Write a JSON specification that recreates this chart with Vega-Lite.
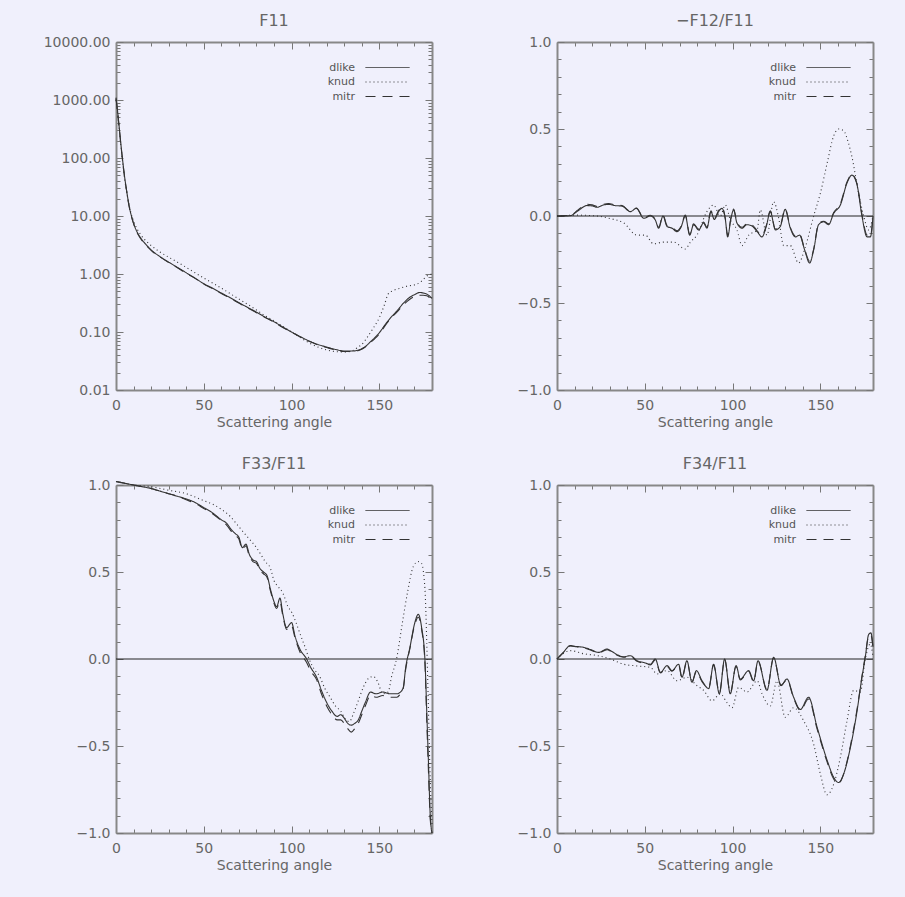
{
"$schema": "https://vega.github.io/schema/vega-lite/v6.json",
"background": "#f0f0fc",
"padding": {"left": 43, "top": 13, "right": 34, "bottom": 30},
"columns": 2,
"spacing": {"row": 95, "column": 125},
"bounds": "flush",
"datasets": {
"f11": [
{"series":"dlike","angle":0,"value":1100},{"series":"dlike","angle":1,"value":600},{"series":"dlike","angle":2,"value":300},{"series":"dlike","angle":3,"value":150},{"series":"dlike","angle":4,"value":80},{"series":"dlike","angle":5,"value":45},{"series":"dlike","angle":6,"value":28},{"series":"dlike","angle":7,"value":18},{"series":"dlike","angle":8,"value":12.5},{"series":"dlike","angle":9,"value":9.5},{"series":"dlike","angle":10,"value":7.5},{"series":"dlike","angle":12,"value":5.3},{"series":"dlike","angle":14,"value":4.2},{"series":"dlike","angle":16,"value":3.5},{"series":"dlike","angle":18,"value":3.0},{"series":"dlike","angle":20,"value":2.6},{"series":"dlike","angle":25,"value":2.0},{"series":"dlike","angle":30,"value":1.6},{"series":"dlike","angle":35,"value":1.3},{"series":"dlike","angle":40,"value":1.05},{"series":"dlike","angle":45,"value":0.85},{"series":"dlike","angle":50,"value":0.68},{"series":"dlike","angle":55,"value":0.57},{"series":"dlike","angle":60,"value":0.47},{"series":"dlike","angle":65,"value":0.39},{"series":"dlike","angle":70,"value":0.32},{"series":"dlike","angle":75,"value":0.265},{"series":"dlike","angle":80,"value":0.22},{"series":"dlike","angle":85,"value":0.18},{"series":"dlike","angle":90,"value":0.15},{"series":"dlike","angle":95,"value":0.122},{"series":"dlike","angle":100,"value":0.1},{"series":"dlike","angle":105,"value":0.083},{"series":"dlike","angle":110,"value":0.07},{"series":"dlike","angle":115,"value":0.061},{"series":"dlike","angle":120,"value":0.055},{"series":"dlike","angle":125,"value":0.05},{"series":"dlike","angle":130,"value":0.047},{"series":"dlike","angle":135,"value":0.047},{"series":"dlike","angle":139,"value":0.05},{"series":"dlike","angle":142,"value":0.056},{"series":"dlike","angle":145,"value":0.068},{"series":"dlike","angle":148,"value":0.083},{"series":"dlike","angle":150,"value":0.097},{"series":"dlike","angle":153,"value":0.13},{"series":"dlike","angle":156,"value":0.17},{"series":"dlike","angle":160,"value":0.23},{"series":"dlike","angle":164,"value":0.32},{"series":"dlike","angle":167,"value":0.39},{"series":"dlike","angle":170,"value":0.44},{"series":"dlike","angle":173,"value":0.48},{"series":"dlike","angle":175,"value":0.47},{"series":"dlike","angle":177,"value":0.45},{"series":"dlike","angle":180,"value":0.38},
{"series":"knud","angle":0,"value":1000},{"series":"knud","angle":1,"value":550},{"series":"knud","angle":2,"value":280},{"series":"knud","angle":3,"value":140},{"series":"knud","angle":4,"value":75},{"series":"knud","angle":5,"value":42},{"series":"knud","angle":6,"value":27},{"series":"knud","angle":7,"value":18},{"series":"knud","angle":8,"value":13},{"series":"knud","angle":10,"value":8.2},{"series":"knud","angle":12,"value":6},{"series":"knud","angle":14,"value":4.8},{"series":"knud","angle":16,"value":4.0},{"series":"knud","angle":18,"value":3.5},{"series":"knud","angle":20,"value":3.1},{"series":"knud","angle":25,"value":2.4},{"series":"knud","angle":30,"value":1.95},{"series":"knud","angle":35,"value":1.6},{"series":"knud","angle":40,"value":1.3},{"series":"knud","angle":45,"value":1.05},{"series":"knud","angle":50,"value":0.85},{"series":"knud","angle":55,"value":0.7},{"series":"knud","angle":60,"value":0.57},{"series":"knud","angle":65,"value":0.46},{"series":"knud","angle":70,"value":0.37},{"series":"knud","angle":75,"value":0.3},{"series":"knud","angle":80,"value":0.24},{"series":"knud","angle":85,"value":0.19},{"series":"knud","angle":90,"value":0.155},{"series":"knud","angle":95,"value":0.125},{"series":"knud","angle":100,"value":0.1},{"series":"knud","angle":105,"value":0.08},{"series":"knud","angle":110,"value":0.065},{"series":"knud","angle":115,"value":0.055},{"series":"knud","angle":120,"value":0.049},{"series":"knud","angle":125,"value":0.046},{"series":"knud","angle":130,"value":0.045},{"series":"knud","angle":135,"value":0.048},{"series":"knud","angle":138,"value":0.055},{"series":"knud","angle":140,"value":0.061},{"series":"knud","angle":143,"value":0.08},{"series":"knud","angle":146,"value":0.11},{"series":"knud","angle":150,"value":0.177},{"series":"knud","angle":153,"value":0.3},{"series":"knud","angle":155,"value":0.45},{"series":"knud","angle":158,"value":0.52},{"series":"knud","angle":162,"value":0.57},{"series":"knud","angle":166,"value":0.62},{"series":"knud","angle":171,"value":0.66},{"series":"knud","angle":174,"value":0.75},{"series":"knud","angle":177,"value":0.92},{"series":"knud","angle":180,"value":1.0},
{"series":"mitr","angle":0,"value":1050},{"series":"mitr","angle":1,"value":580},{"series":"mitr","angle":2,"value":290},{"series":"mitr","angle":3,"value":145},{"series":"mitr","angle":4,"value":78},{"series":"mitr","angle":5,"value":44},{"series":"mitr","angle":6,"value":27.5},{"series":"mitr","angle":7,"value":17.5},{"series":"mitr","angle":8,"value":12.2},{"series":"mitr","angle":9,"value":9.3},{"series":"mitr","angle":10,"value":7.4},{"series":"mitr","angle":12,"value":5.2},{"series":"mitr","angle":14,"value":4.1},{"series":"mitr","angle":16,"value":3.4},{"series":"mitr","angle":18,"value":2.95},{"series":"mitr","angle":20,"value":2.55},{"series":"mitr","angle":25,"value":1.97},{"series":"mitr","angle":30,"value":1.58},{"series":"mitr","angle":35,"value":1.28},{"series":"mitr","angle":40,"value":1.03},{"series":"mitr","angle":45,"value":0.84},{"series":"mitr","angle":50,"value":0.67},{"series":"mitr","angle":55,"value":0.56},{"series":"mitr","angle":60,"value":0.46},{"series":"mitr","angle":65,"value":0.385},{"series":"mitr","angle":70,"value":0.315},{"series":"mitr","angle":75,"value":0.26},{"series":"mitr","angle":80,"value":0.215},{"series":"mitr","angle":85,"value":0.178},{"series":"mitr","angle":90,"value":0.148},{"series":"mitr","angle":95,"value":0.12},{"series":"mitr","angle":100,"value":0.099},{"series":"mitr","angle":105,"value":0.082},{"series":"mitr","angle":110,"value":0.069},{"series":"mitr","angle":115,"value":0.06},{"series":"mitr","angle":120,"value":0.054},{"series":"mitr","angle":125,"value":0.049},{"series":"mitr","angle":130,"value":0.046},{"series":"mitr","angle":135,"value":0.046},{"series":"mitr","angle":139,"value":0.049},{"series":"mitr","angle":142,"value":0.055},{"series":"mitr","angle":145,"value":0.066},{"series":"mitr","angle":148,"value":0.08},{"series":"mitr","angle":150,"value":0.093},{"series":"mitr","angle":153,"value":0.125},{"series":"mitr","angle":156,"value":0.165},{"series":"mitr","angle":160,"value":0.22},{"series":"mitr","angle":164,"value":0.3},{"series":"mitr","angle":167,"value":0.36},{"series":"mitr","angle":170,"value":0.41},{"series":"mitr","angle":173,"value":0.43},{"series":"mitr","angle":175,"value":0.43},{"series":"mitr","angle":177,"value":0.42},{"series":"mitr","angle":180,"value":0.37}
],
"f12": [
{"series":"dlike","angle":0,"value":0},{"series":"dlike","angle":4,"value":0},{"series":"dlike","angle":7.6,"value":0.002},{"series":"dlike","angle":12,"value":0.03},{"series":"dlike","angle":17,"value":0.06},{"series":"dlike","angle":20,"value":0.058},{"series":"dlike","angle":22.8,"value":0.05},{"series":"dlike","angle":26,"value":0.062},{"series":"dlike","angle":29.4,"value":0.067},{"series":"dlike","angle":33,"value":0.06},{"series":"dlike","angle":37,"value":0.057},{"series":"dlike","angle":41.8,"value":0.025},{"series":"dlike","angle":45.2,"value":0.044},{"series":"dlike","angle":49.4,"value":-0.013},{"series":"dlike","angle":53.2,"value":0},{"series":"dlike","angle":56,"value":-0.023},{"series":"dlike","angle":57.9,"value":-0.07},{"series":"dlike","angle":60.4,"value":0},{"series":"dlike","angle":62.7,"value":-0.06},{"series":"dlike","angle":65.5,"value":-0.07},{"series":"dlike","angle":68.4,"value":-0.09},{"series":"dlike","angle":70.6,"value":-0.065},{"series":"dlike","angle":73.1,"value":0},{"series":"dlike","angle":75.6,"value":-0.11},{"series":"dlike","angle":77.8,"value":-0.05},{"series":"dlike","angle":80.7,"value":-0.08},{"series":"dlike","angle":83.5,"value":-0.04},{"series":"dlike","angle":85.4,"value":-0.07},{"series":"dlike","angle":87.7,"value":0.025},{"series":"dlike","angle":89.6,"value":-0.02},{"series":"dlike","angle":92,"value":0.025},{"series":"dlike","angle":94,"value":0.044},{"series":"dlike","angle":95.9,"value":-0.02},{"series":"dlike","angle":97.2,"value":-0.12},{"series":"dlike","angle":99.1,"value":-0.013},{"series":"dlike","angle":100.6,"value":0.035},{"series":"dlike","angle":102.5,"value":-0.04},{"series":"dlike","angle":105.4,"value":-0.07},{"series":"dlike","angle":108.2,"value":-0.05},{"series":"dlike","angle":111,"value":-0.057},{"series":"dlike","angle":114,"value":-0.09},{"series":"dlike","angle":116.8,"value":-0.12},{"series":"dlike","angle":119.2,"value":-0.06},{"series":"dlike","angle":121.5,"value":0.025},{"series":"dlike","angle":124.4,"value":-0.08},{"series":"dlike","angle":127.2,"value":-0.06},{"series":"dlike","angle":130,"value":0.038},{"series":"dlike","angle":132.9,"value":-0.07},{"series":"dlike","angle":135.8,"value":-0.12},{"series":"dlike","angle":138.2,"value":-0.11},{"series":"dlike","angle":140.9,"value":-0.19},{"series":"dlike","angle":143.9,"value":-0.27},{"series":"dlike","angle":146.2,"value":-0.195},{"series":"dlike","angle":149,"value":-0.05},{"series":"dlike","angle":151.9,"value":-0.033},{"series":"dlike","angle":154.7,"value":-0.05},{"series":"dlike","angle":157.6,"value":0.015},{"series":"dlike","angle":161.4,"value":0.063},{"series":"dlike","angle":165.2,"value":0.19},{"series":"dlike","angle":168,"value":0.235},{"series":"dlike","angle":170.9,"value":0.18},{"series":"dlike","angle":173.7,"value":0},{"series":"dlike","angle":176.6,"value":-0.12},{"series":"dlike","angle":178.5,"value":-0.12},{"series":"dlike","angle":180,"value":0},
{"series":"knud","angle":0,"value":0},{"series":"knud","angle":11.4,"value":0.005},{"series":"knud","angle":22.8,"value":0},{"series":"knud","angle":30.4,"value":-0.015},{"series":"knud","angle":38,"value":-0.04},{"series":"knud","angle":45.6,"value":-0.11},{"series":"knud","angle":50.3,"value":-0.11},{"series":"knud","angle":55,"value":-0.16},{"series":"knud","angle":60.8,"value":-0.15},{"series":"knud","angle":66.5,"value":-0.15},{"series":"knud","angle":73.1,"value":-0.19},{"series":"knud","angle":76,"value":-0.15},{"series":"knud","angle":79.7,"value":-0.11},{"series":"knud","angle":85.4,"value":0.025},{"series":"knud","angle":89.2,"value":0.063},{"series":"knud","angle":93,"value":0},{"series":"knud","angle":95.9,"value":0.063},{"series":"knud","angle":98.7,"value":-0.02},{"series":"knud","angle":102.5,"value":-0.08},{"series":"knud","angle":105.4,"value":-0.17},{"series":"knud","angle":109.2,"value":-0.11},{"series":"knud","angle":114,"value":-0.08},{"series":"knud","angle":115.8,"value":0.035},{"series":"knud","angle":119.6,"value":-0.11},{"series":"knud","angle":123.4,"value":0.082},{"series":"knud","angle":126.3,"value":-0.013},{"series":"knud","angle":129.1,"value":-0.17},{"series":"knud","angle":132.9,"value":-0.17},{"series":"knud","angle":137.6,"value":-0.27},{"series":"knud","angle":141.4,"value":-0.18},{"series":"knud","angle":146.2,"value":0},{"series":"knud","angle":150,"value":0.13},{"series":"knud","angle":153.8,"value":0.3},{"series":"knud","angle":157.6,"value":0.46},{"series":"knud","angle":160.5,"value":0.5},{"series":"knud","angle":163.3,"value":0.49},{"series":"knud","angle":166,"value":0.42},{"series":"knud","angle":168,"value":0.34},{"series":"knud","angle":171.8,"value":0.13},{"series":"knud","angle":174.7,"value":0},{"series":"knud","angle":177.5,"value":-0.08},{"series":"knud","angle":180,"value":0},
{"series":"mitr","angle":0,"value":0},{"series":"mitr","angle":4,"value":0.002},{"series":"mitr","angle":7.6,"value":0.004},{"series":"mitr","angle":12,"value":0.035},{"series":"mitr","angle":17,"value":0.068},{"series":"mitr","angle":20,"value":0.064},{"series":"mitr","angle":22.8,"value":0.055},{"series":"mitr","angle":26,"value":0.066},{"series":"mitr","angle":29.4,"value":0.072},{"series":"mitr","angle":33,"value":0.064},{"series":"mitr","angle":37,"value":0.06},{"series":"mitr","angle":41.8,"value":0.028},{"series":"mitr","angle":45.2,"value":0.046},{"series":"mitr","angle":49.4,"value":-0.01},{"series":"mitr","angle":53.2,"value":0.004},{"series":"mitr","angle":56,"value":-0.02},{"series":"mitr","angle":57.9,"value":-0.065},{"series":"mitr","angle":60.4,"value":0.004},{"series":"mitr","angle":62.7,"value":-0.055},{"series":"mitr","angle":65.5,"value":-0.066},{"series":"mitr","angle":68.4,"value":-0.085},{"series":"mitr","angle":70.6,"value":-0.06},{"series":"mitr","angle":73.1,"value":0.005},{"series":"mitr","angle":75.6,"value":-0.105},{"series":"mitr","angle":77.8,"value":-0.045},{"series":"mitr","angle":80.7,"value":-0.075},{"series":"mitr","angle":83.5,"value":-0.035},{"series":"mitr","angle":85.4,"value":-0.065},{"series":"mitr","angle":87.7,"value":0.03},{"series":"mitr","angle":89.6,"value":-0.015},{"series":"mitr","angle":92,"value":0.03},{"series":"mitr","angle":94,"value":0.05},{"series":"mitr","angle":95.9,"value":-0.015},{"series":"mitr","angle":97.2,"value":-0.11},{"series":"mitr","angle":99.1,"value":-0.01},{"series":"mitr","angle":100.6,"value":0.04},{"series":"mitr","angle":102.5,"value":-0.035},{"series":"mitr","angle":105.4,"value":-0.065},{"series":"mitr","angle":108.2,"value":-0.045},{"series":"mitr","angle":111,"value":-0.05},{"series":"mitr","angle":114,"value":-0.085},{"series":"mitr","angle":116.8,"value":-0.11},{"series":"mitr","angle":119.2,"value":-0.055},{"series":"mitr","angle":121.5,"value":0.03},{"series":"mitr","angle":124.4,"value":-0.075},{"series":"mitr","angle":127.2,"value":-0.055},{"series":"mitr","angle":130,"value":0.04},{"series":"mitr","angle":132.9,"value":-0.065},{"series":"mitr","angle":135.8,"value":-0.115},{"series":"mitr","angle":138.2,"value":-0.105},{"series":"mitr","angle":140.9,"value":-0.185},{"series":"mitr","angle":143.9,"value":-0.26},{"series":"mitr","angle":146.2,"value":-0.19},{"series":"mitr","angle":149,"value":-0.045},{"series":"mitr","angle":151.9,"value":-0.03},{"series":"mitr","angle":154.7,"value":-0.045},{"series":"mitr","angle":157.6,"value":0.02},{"series":"mitr","angle":161.4,"value":0.07},{"series":"mitr","angle":165.2,"value":0.195},{"series":"mitr","angle":168,"value":0.24},{"series":"mitr","angle":170.9,"value":0.185},{"series":"mitr","angle":173.7,"value":0.01},{"series":"mitr","angle":176.6,"value":-0.11},{"series":"mitr","angle":178.5,"value":-0.115},{"series":"mitr","angle":180,"value":0}
],
"f33": [
{"series":"dlike","angle":0,"value":1.02},{"series":"dlike","angle":5,"value":1.01},{"series":"dlike","angle":10,"value":1.0},{"series":"dlike","angle":15,"value":0.99},{"series":"dlike","angle":20,"value":0.98},{"series":"dlike","angle":25,"value":0.965},{"series":"dlike","angle":30,"value":0.95},{"series":"dlike","angle":35,"value":0.935},{"series":"dlike","angle":40,"value":0.92},{"series":"dlike","angle":45,"value":0.9},{"series":"dlike","angle":50,"value":0.87},{"series":"dlike","angle":55,"value":0.84},{"series":"dlike","angle":60,"value":0.8},{"series":"dlike","angle":63,"value":0.78},{"series":"dlike","angle":66,"value":0.74},{"series":"dlike","angle":68,"value":0.72},{"series":"dlike","angle":70,"value":0.7},{"series":"dlike","angle":72,"value":0.64},{"series":"dlike","angle":74,"value":0.66},{"series":"dlike","angle":76,"value":0.6},{"series":"dlike","angle":78,"value":0.57},{"series":"dlike","angle":80,"value":0.56},{"series":"dlike","angle":82,"value":0.52},{"series":"dlike","angle":84,"value":0.5},{"series":"dlike","angle":86,"value":0.48},{"series":"dlike","angle":88,"value":0.4},{"series":"dlike","angle":90,"value":0.33},{"series":"dlike","angle":91.5,"value":0.3},{"series":"dlike","angle":93.4,"value":0.35},{"series":"dlike","angle":95,"value":0.26},{"series":"dlike","angle":97.2,"value":0.18},{"series":"dlike","angle":99,"value":0.2},{"series":"dlike","angle":100,"value":0.21},{"series":"dlike","angle":102,"value":0.13},{"series":"dlike","angle":104.8,"value":0.056},{"series":"dlike","angle":108.6,"value":0},{"series":"dlike","angle":111,"value":-0.05},{"series":"dlike","angle":114.3,"value":-0.105},{"series":"dlike","angle":117,"value":-0.18},{"series":"dlike","angle":120,"value":-0.25},{"series":"dlike","angle":123,"value":-0.3},{"series":"dlike","angle":126,"value":-0.33},{"series":"dlike","angle":128,"value":-0.32},{"series":"dlike","angle":130,"value":-0.34},{"series":"dlike","angle":132,"value":-0.37},{"series":"dlike","angle":134,"value":-0.38},{"series":"dlike","angle":136,"value":-0.37},{"series":"dlike","angle":138,"value":-0.35},{"series":"dlike","angle":140,"value":-0.3},{"series":"dlike","angle":142,"value":-0.25},{"series":"dlike","angle":145,"value":-0.19},{"series":"dlike","angle":148,"value":-0.2},{"series":"dlike","angle":152,"value":-0.19},{"series":"dlike","angle":156,"value":-0.2},{"series":"dlike","angle":160,"value":-0.2},{"series":"dlike","angle":162,"value":-0.19},{"series":"dlike","angle":163.6,"value":-0.165},{"series":"dlike","angle":165,"value":-0.05},{"series":"dlike","angle":167.4,"value":0.065},{"series":"dlike","angle":170,"value":0.2},{"series":"dlike","angle":172.2,"value":0.257},{"series":"dlike","angle":174.1,"value":0.18},{"series":"dlike","angle":176,"value":-0.01},{"series":"dlike","angle":177,"value":-0.3},{"series":"dlike","angle":178,"value":-0.6},{"series":"dlike","angle":179,"value":-0.9},{"series":"dlike","angle":180,"value":-1.0},
{"series":"knud","angle":0,"value":1.02},{"series":"knud","angle":10,"value":1.0},{"series":"knud","angle":20,"value":0.99},{"series":"knud","angle":30,"value":0.97},{"series":"knud","angle":40,"value":0.95},{"series":"knud","angle":50,"value":0.91},{"series":"knud","angle":55,"value":0.89},{"series":"knud","angle":60,"value":0.86},{"series":"knud","angle":65,"value":0.82},{"series":"knud","angle":70,"value":0.76},{"series":"knud","angle":75,"value":0.7},{"series":"knud","angle":80,"value":0.64},{"series":"knud","angle":85,"value":0.56},{"series":"knud","angle":88,"value":0.52},{"series":"knud","angle":90,"value":0.45},{"series":"knud","angle":92,"value":0.42},{"series":"knud","angle":95,"value":0.38},{"series":"knud","angle":98,"value":0.3},{"series":"knud","angle":100,"value":0.27},{"series":"knud","angle":102.9,"value":0.2},{"series":"knud","angle":105,"value":0.14},{"series":"knud","angle":108,"value":0.06},{"series":"knud","angle":110,"value":0.0},{"series":"knud","angle":113,"value":-0.06},{"series":"knud","angle":116,"value":-0.1},{"series":"knud","angle":119,"value":-0.17},{"series":"knud","angle":122,"value":-0.22},{"series":"knud","angle":125,"value":-0.27},{"series":"knud","angle":128,"value":-0.3},{"series":"knud","angle":131,"value":-0.35},{"series":"knud","angle":133,"value":-0.36},{"series":"knud","angle":135,"value":-0.32},{"series":"knud","angle":138,"value":-0.24},{"series":"knud","angle":141,"value":-0.16},{"series":"knud","angle":144,"value":-0.11},{"series":"knud","angle":146.5,"value":-0.1},{"series":"knud","angle":149,"value":-0.13},{"series":"knud","angle":152,"value":-0.2},{"series":"knud","angle":155,"value":-0.19},{"series":"knud","angle":157,"value":-0.1},{"series":"knud","angle":159.8,"value":0},{"series":"knud","angle":163,"value":0.2},{"series":"knud","angle":166,"value":0.38},{"series":"knud","angle":169.3,"value":0.53},{"series":"knud","angle":172,"value":0.56},{"series":"knud","angle":174,"value":0.55},{"series":"knud","angle":176,"value":0.4},{"series":"knud","angle":177,"value":0.1},{"series":"knud","angle":178,"value":-0.3},{"series":"knud","angle":179,"value":-0.7},{"series":"knud","angle":180,"value":-0.95},
{"series":"mitr","angle":0,"value":1.02},{"series":"mitr","angle":5,"value":1.01},{"series":"mitr","angle":10,"value":1.0},{"series":"mitr","angle":15,"value":0.99},{"series":"mitr","angle":20,"value":0.98},{"series":"mitr","angle":25,"value":0.965},{"series":"mitr","angle":30,"value":0.95},{"series":"mitr","angle":35,"value":0.935},{"series":"mitr","angle":40,"value":0.915},{"series":"mitr","angle":45,"value":0.895},{"series":"mitr","angle":50,"value":0.865},{"series":"mitr","angle":55,"value":0.835},{"series":"mitr","angle":60,"value":0.795},{"series":"mitr","angle":63,"value":0.77},{"series":"mitr","angle":66,"value":0.73},{"series":"mitr","angle":68,"value":0.71},{"series":"mitr","angle":70,"value":0.69},{"series":"mitr","angle":72,"value":0.63},{"series":"mitr","angle":74,"value":0.65},{"series":"mitr","angle":76,"value":0.59},{"series":"mitr","angle":78,"value":0.56},{"series":"mitr","angle":80,"value":0.55},{"series":"mitr","angle":82,"value":0.51},{"series":"mitr","angle":84,"value":0.49},{"series":"mitr","angle":86,"value":0.47},{"series":"mitr","angle":88,"value":0.39},{"series":"mitr","angle":90,"value":0.32},{"series":"mitr","angle":91.5,"value":0.29},{"series":"mitr","angle":93.4,"value":0.33},{"series":"mitr","angle":95,"value":0.25},{"series":"mitr","angle":97.2,"value":0.17},{"series":"mitr","angle":99,"value":0.19},{"series":"mitr","angle":100,"value":0.19},{"series":"mitr","angle":102,"value":0.12},{"series":"mitr","angle":104.8,"value":0.04},{"series":"mitr","angle":108.6,"value":-0.02},{"series":"mitr","angle":111,"value":-0.07},{"series":"mitr","angle":114.3,"value":-0.12},{"series":"mitr","angle":117,"value":-0.2},{"series":"mitr","angle":120,"value":-0.27},{"series":"mitr","angle":123,"value":-0.32},{"series":"mitr","angle":126,"value":-0.35},{"series":"mitr","angle":128,"value":-0.35},{"series":"mitr","angle":130,"value":-0.37},{"series":"mitr","angle":132,"value":-0.4},{"series":"mitr","angle":134,"value":-0.42},{"series":"mitr","angle":136,"value":-0.4},{"series":"mitr","angle":138,"value":-0.37},{"series":"mitr","angle":140,"value":-0.32},{"series":"mitr","angle":142,"value":-0.27},{"series":"mitr","angle":145,"value":-0.21},{"series":"mitr","angle":148,"value":-0.22},{"series":"mitr","angle":152,"value":-0.21},{"series":"mitr","angle":156,"value":-0.22},{"series":"mitr","angle":160,"value":-0.22},{"series":"mitr","angle":162,"value":-0.2},{"series":"mitr","angle":163.6,"value":-0.17},{"series":"mitr","angle":165,"value":-0.06},{"series":"mitr","angle":167.4,"value":0.06},{"series":"mitr","angle":170,"value":0.19},{"series":"mitr","angle":172.2,"value":0.24},{"series":"mitr","angle":174.1,"value":0.17},{"series":"mitr","angle":176,"value":-0.03},{"series":"mitr","angle":177,"value":-0.35},{"series":"mitr","angle":178,"value":-0.65},{"series":"mitr","angle":179,"value":-0.92},{"series":"mitr","angle":180,"value":-1.0}
],
"f34": [
{"series":"dlike","angle":0,"value":0},{"series":"dlike","angle":3,"value":0.03},{"series":"dlike","angle":7.6,"value":0.077},{"series":"dlike","angle":11,"value":0.072},{"series":"dlike","angle":15.2,"value":0.067},{"series":"dlike","angle":19,"value":0.055},{"series":"dlike","angle":23.7,"value":0.038},{"series":"dlike","angle":28.5,"value":0.057},{"series":"dlike","angle":31,"value":0.045},{"series":"dlike","angle":34.2,"value":0.025},{"series":"dlike","angle":38,"value":0.013},{"series":"dlike","angle":41.8,"value":0.019},{"series":"dlike","angle":45.6,"value":-0.01},{"series":"dlike","angle":49.4,"value":-0.02},{"series":"dlike","angle":53.2,"value":-0.03},{"series":"dlike","angle":56,"value":0},{"series":"dlike","angle":58.9,"value":-0.077},{"series":"dlike","angle":62.7,"value":-0.038},{"series":"dlike","angle":65.5,"value":-0.067},{"series":"dlike","angle":69.3,"value":-0.03},{"series":"dlike","angle":71.2,"value":-0.105},{"series":"dlike","angle":74,"value":-0.01},{"series":"dlike","angle":76.9,"value":-0.134},{"series":"dlike","angle":79.4,"value":-0.067},{"series":"dlike","angle":82.6,"value":-0.125},{"series":"dlike","angle":86.4,"value":-0.17},{"series":"dlike","angle":89.2,"value":-0.03},{"series":"dlike","angle":92.5,"value":-0.2},{"series":"dlike","angle":95.5,"value":0},{"series":"dlike","angle":98.7,"value":-0.2},{"series":"dlike","angle":102,"value":-0.038},{"series":"dlike","angle":104.4,"value":-0.115},{"series":"dlike","angle":109.2,"value":-0.067},{"series":"dlike","angle":112,"value":-0.125},{"series":"dlike","angle":114.5,"value":-0.01},{"series":"dlike","angle":119.6,"value":-0.18},{"series":"dlike","angle":123.4,"value":0.01},{"series":"dlike","angle":127.6,"value":-0.153},{"series":"dlike","angle":131,"value":-0.115},{"series":"dlike","angle":134.8,"value":-0.22},{"series":"dlike","angle":138.6,"value":-0.29},{"series":"dlike","angle":143.3,"value":-0.22},{"series":"dlike","angle":148.1,"value":-0.39},{"series":"dlike","angle":153.8,"value":-0.58},{"series":"dlike","angle":157.6,"value":-0.68},{"series":"dlike","angle":160.4,"value":-0.71},{"series":"dlike","angle":163.3,"value":-0.66},{"series":"dlike","angle":167.1,"value":-0.51},{"series":"dlike","angle":170.9,"value":-0.3},{"series":"dlike","angle":173.7,"value":-0.105},{"series":"dlike","angle":175.6,"value":0.01},{"series":"dlike","angle":177.5,"value":0.14},{"series":"dlike","angle":178.8,"value":0.15},{"series":"dlike","angle":180,"value":0.07},
{"series":"knud","angle":0,"value":0},{"series":"knud","angle":7.6,"value":0.048},{"series":"knud","angle":15.2,"value":0.03},{"series":"knud","angle":22.8,"value":0.02},{"series":"knud","angle":30.4,"value":0},{"series":"knud","angle":38,"value":-0.03},{"series":"knud","angle":45.6,"value":-0.04},{"series":"knud","angle":53.2,"value":-0.048},{"series":"knud","angle":57,"value":-0.086},{"series":"knud","angle":62.7,"value":-0.067},{"series":"knud","angle":68.4,"value":-0.125},{"series":"knud","angle":74,"value":-0.105},{"series":"knud","angle":79.7,"value":-0.153},{"series":"knud","angle":83.5,"value":-0.18},{"series":"knud","angle":88.3,"value":-0.24},{"series":"knud","angle":93,"value":-0.2},{"series":"knud","angle":96.8,"value":-0.25},{"series":"knud","angle":99.7,"value":-0.28},{"series":"knud","angle":103.5,"value":-0.163},{"series":"knud","angle":108.2,"value":-0.19},{"series":"knud","angle":114,"value":-0.125},{"series":"knud","angle":116.8,"value":-0.2},{"series":"knud","angle":121.5,"value":-0.27},{"series":"knud","angle":125.3,"value":-0.125},{"series":"knud","angle":130,"value":-0.335},{"series":"knud","angle":134.8,"value":-0.28},{"series":"knud","angle":140.5,"value":-0.355},{"series":"knud","angle":146.2,"value":-0.49},{"series":"knud","angle":150,"value":-0.66},{"series":"knud","angle":153.8,"value":-0.78},{"series":"knud","angle":157.6,"value":-0.72},{"series":"knud","angle":161.4,"value":-0.565},{"series":"knud","angle":165.2,"value":-0.355},{"series":"knud","angle":169,"value":-0.18},{"series":"knud","angle":172.8,"value":-0.19},{"series":"knud","angle":175.6,"value":0},{"series":"knud","angle":178.5,"value":0.086},{"series":"knud","angle":180,"value":0.01},
{"series":"mitr","angle":0,"value":0},{"series":"mitr","angle":3,"value":0.032},{"series":"mitr","angle":7.6,"value":0.075},{"series":"mitr","angle":11,"value":0.07},{"series":"mitr","angle":15.2,"value":0.064},{"series":"mitr","angle":19,"value":0.052},{"series":"mitr","angle":23.7,"value":0.035},{"series":"mitr","angle":28.5,"value":0.053},{"series":"mitr","angle":31,"value":0.042},{"series":"mitr","angle":34.2,"value":0.022},{"series":"mitr","angle":38,"value":0.01},{"series":"mitr","angle":41.8,"value":0.015},{"series":"mitr","angle":45.6,"value":-0.013},{"series":"mitr","angle":49.4,"value":-0.024},{"series":"mitr","angle":53.2,"value":-0.034},{"series":"mitr","angle":56,"value":-0.005},{"series":"mitr","angle":58.9,"value":-0.08},{"series":"mitr","angle":62.7,"value":-0.043},{"series":"mitr","angle":65.5,"value":-0.07},{"series":"mitr","angle":69.3,"value":-0.035},{"series":"mitr","angle":71.2,"value":-0.11},{"series":"mitr","angle":74,"value":-0.015},{"series":"mitr","angle":76.9,"value":-0.13},{"series":"mitr","angle":79.4,"value":-0.072},{"series":"mitr","angle":82.6,"value":-0.13},{"series":"mitr","angle":86.4,"value":-0.165},{"series":"mitr","angle":89.2,"value":-0.035},{"series":"mitr","angle":92.5,"value":-0.195},{"series":"mitr","angle":95.5,"value":-0.005},{"series":"mitr","angle":98.7,"value":-0.195},{"series":"mitr","angle":102,"value":-0.043},{"series":"mitr","angle":104.4,"value":-0.12},{"series":"mitr","angle":109.2,"value":-0.072},{"series":"mitr","angle":112,"value":-0.13},{"series":"mitr","angle":114.5,"value":-0.015},{"series":"mitr","angle":119.6,"value":-0.175},{"series":"mitr","angle":123.4,"value":0.005},{"series":"mitr","angle":127.6,"value":-0.15},{"series":"mitr","angle":131,"value":-0.12},{"series":"mitr","angle":134.8,"value":-0.225},{"series":"mitr","angle":138.6,"value":-0.295},{"series":"mitr","angle":143.3,"value":-0.23},{"series":"mitr","angle":148.1,"value":-0.4},{"series":"mitr","angle":153.8,"value":-0.59},{"series":"mitr","angle":157.6,"value":-0.69},{"series":"mitr","angle":160.4,"value":-0.715},{"series":"mitr","angle":163.3,"value":-0.66},{"series":"mitr","angle":167.1,"value":-0.5},{"series":"mitr","angle":170.9,"value":-0.29},{"series":"mitr","angle":173.7,"value":-0.1},{"series":"mitr","angle":175.6,"value":0.02},{"series":"mitr","angle":177.5,"value":0.13},{"series":"mitr","angle":178.8,"value":0.14},{"series":"mitr","angle":180,"value":0.06}
]
},
"concat": [
{
 "title": "F11", "width": 316, "height": 348,
 "data": {"name": "f11"},
 "layer": [
  {"mark": {"type": "line", "color": "#333333", "strokeWidth": 1.1, "interpolate": "monotone"},
   "encoding": {
    "x": {"field": "angle", "type": "quantitative", "scale": {"domain": [0, 180], "nice": false, "zero": false},
      "axis": {"orient": "bottom", "values": [0,10,20,30,40,50,60,70,80,90,100,110,120,130,140,150,160,170], "tickSize": {"condition": {"test": "datum.value % 50 === 0", "value": -7}, "value": -4}, "labelExpr": "datum.value % 50 === 0 ? datum.label : ''", "title": "Scattering angle"}},
    "y": {"field": "value", "type": "quantitative", "scale": {"type": "log", "domain": [0.01, 10000], "nice": false},
      "axis": {"orient": "left", "values": [0.01,0.02,0.03,0.04,0.05,0.06,0.07,0.08,0.09,0.1,0.2,0.3,0.4,0.5,0.6,0.7,0.8,0.9,1,2,3,4,5,6,7,8,9,10,20,30,40,50,60,70,80,90,100,200,300,400,500,600,700,800,900,1000,2000,3000,4000,5000,6000,7000,8000,9000,10000], "format": ".2f", "tickSize": {"condition": {"test": "abs(log(datum.value)/LN10 - round(log(datum.value)/LN10)) < 0.001", "value": -7}, "value": -4}, "labelExpr": "abs(log(datum.value)/LN10 - round(log(datum.value)/LN10)) < 0.001 ? datum.label : ''", "title": null}},
    "strokeDash": {"field": "series", "type": "nominal", "scale": {"domain": ["dlike", "knud", "mitr"], "range": [[1, 0], [1, 3], [10, 7]]}, "legend": {"orient": "none", "legendX": 265.5, "legendY": 19.5, "title": null}}
   }},
  {"mark": {"type": "point", "opacity": 0},
   "encoding": {
    "x": {"field": "angle", "type": "quantitative", "scale": {"domain": [0, 180], "nice": false, "zero": false},
      "axis": {"orient": "top", "values": [0,10,20,30,40,50,60,70,80,90,100,110,120,130,140,150,160,170], "tickSize": {"condition": {"test": "datum.value % 50 === 0", "value": -7}, "value": -4}, "labels": false, "title": null}},
    "y": {"field": "value", "type": "quantitative", "scale": {"type": "log", "domain": [0.01, 10000], "nice": false},
      "axis": {"orient": "right", "values": [0.01,0.02,0.03,0.04,0.05,0.06,0.07,0.08,0.09,0.1,0.2,0.3,0.4,0.5,0.6,0.7,0.8,0.9,1,2,3,4,5,6,7,8,9,10,20,30,40,50,60,70,80,90,100,200,300,400,500,600,700,800,900,1000,2000,3000,4000,5000,6000,7000,8000,9000,10000], "tickSize": {"condition": {"test": "abs(log(datum.value)/LN10 - round(log(datum.value)/LN10)) < 0.001", "value": -7}, "value": -4}, "labels": false, "title": null}}
   }}
 ],
 "resolve": {"axis": {"x": "independent", "y": "independent"}}
},
{
 "title": "−F12/F11", "width": 316, "height": 348,
 "data": {"name": "f12"},
 "layer": [
  {"data": {"values": [{}]}, "mark": {"type": "rule", "color": "#222222", "strokeWidth": 1}, "encoding": {"y": {"datum": 0, "type": "quantitative", "scale": {"domain": [-1, 1], "nice": false}, "axis": null}}},
  {"mark": {"type": "line", "color": "#333333", "strokeWidth": 1.1, "interpolate": "monotone"},
   "encoding": {
    "x": {"field": "angle", "type": "quantitative", "scale": {"domain": [0, 180], "nice": false, "zero": false},
      "axis": {"orient": "bottom", "values": [0,10,20,30,40,50,60,70,80,90,100,110,120,130,140,150,160,170], "tickSize": {"condition": {"test": "datum.value % 50 === 0", "value": -7}, "value": -4}, "labelExpr": "datum.value % 50 === 0 ? datum.label : ''", "title": "Scattering angle"}},
    "y": {"field": "value", "type": "quantitative", "scale": {"domain": [-1, 1], "nice": false},
      "axis": {"orient": "left", "values": [-1,-0.9,-0.8,-0.7,-0.6,-0.5,-0.4,-0.3,-0.2,-0.1,0,0.1,0.2,0.3,0.4,0.5,0.6,0.7,0.8,0.9,1], "format": ".1f", "tickSize": {"condition": {"test": "abs(datum.value*2 - round(datum.value*2)) < 0.001", "value": -7}, "value": -4}, "labelExpr": "abs(datum.value*2 - round(datum.value*2)) < 0.001 ? datum.label : ''", "title": null}},
    "strokeDash": {"field": "series", "type": "nominal", "scale": {"domain": ["dlike", "knud", "mitr"], "range": [[1, 0], [1, 3], [10, 7]]}, "legend": {"orient": "none", "legendX": 265.5, "legendY": 19.5, "title": null}}
   }},
  {"mark": {"type": "point", "opacity": 0},
   "encoding": {
    "x": {"field": "angle", "type": "quantitative", "scale": {"domain": [0, 180], "nice": false, "zero": false},
      "axis": {"orient": "top", "values": [0,10,20,30,40,50,60,70,80,90,100,110,120,130,140,150,160,170], "tickSize": {"condition": {"test": "datum.value % 50 === 0", "value": -7}, "value": -4}, "labels": false, "title": null}},
    "y": {"field": "value", "type": "quantitative", "scale": {"domain": [-1, 1], "nice": false},
      "axis": {"orient": "right", "values": [-1,-0.9,-0.8,-0.7,-0.6,-0.5,-0.4,-0.3,-0.2,-0.1,0,0.1,0.2,0.3,0.4,0.5,0.6,0.7,0.8,0.9,1], "tickSize": {"condition": {"test": "abs(datum.value*2 - round(datum.value*2)) < 0.001", "value": -7}, "value": -4}, "labels": false, "title": null}}
   }}
 ],
 "resolve": {"axis": {"x": "independent", "y": "independent"}}
},
{
 "title": "F33/F11", "width": 316, "height": 348,
 "data": {"name": "f33"},
 "layer": [
  {"data": {"values": [{}]}, "mark": {"type": "rule", "color": "#222222", "strokeWidth": 1}, "encoding": {"y": {"datum": 0, "type": "quantitative", "scale": {"domain": [-1, 1], "nice": false}, "axis": null}}},
  {"mark": {"type": "line", "color": "#333333", "strokeWidth": 1.1, "interpolate": "monotone"},
   "encoding": {
    "x": {"field": "angle", "type": "quantitative", "scale": {"domain": [0, 180], "nice": false, "zero": false},
      "axis": {"orient": "bottom", "values": [0,10,20,30,40,50,60,70,80,90,100,110,120,130,140,150,160,170], "tickSize": {"condition": {"test": "datum.value % 50 === 0", "value": -7}, "value": -4}, "labelExpr": "datum.value % 50 === 0 ? datum.label : ''", "title": "Scattering angle"}},
    "y": {"field": "value", "type": "quantitative", "scale": {"domain": [-1, 1], "nice": false},
      "axis": {"orient": "left", "values": [-1,-0.9,-0.8,-0.7,-0.6,-0.5,-0.4,-0.3,-0.2,-0.1,0,0.1,0.2,0.3,0.4,0.5,0.6,0.7,0.8,0.9,1], "format": ".1f", "tickSize": {"condition": {"test": "abs(datum.value*2 - round(datum.value*2)) < 0.001", "value": -7}, "value": -4}, "labelExpr": "abs(datum.value*2 - round(datum.value*2)) < 0.001 ? datum.label : ''", "title": null}},
    "strokeDash": {"field": "series", "type": "nominal", "scale": {"domain": ["dlike", "knud", "mitr"], "range": [[1, 0], [1, 3], [10, 7]]}, "legend": {"orient": "none", "legendX": 265.5, "legendY": 19.5, "title": null}}
   }},
  {"mark": {"type": "point", "opacity": 0},
   "encoding": {
    "x": {"field": "angle", "type": "quantitative", "scale": {"domain": [0, 180], "nice": false, "zero": false},
      "axis": {"orient": "top", "values": [0,10,20,30,40,50,60,70,80,90,100,110,120,130,140,150,160,170], "tickSize": {"condition": {"test": "datum.value % 50 === 0", "value": -7}, "value": -4}, "labels": false, "title": null}},
    "y": {"field": "value", "type": "quantitative", "scale": {"domain": [-1, 1], "nice": false},
      "axis": {"orient": "right", "values": [-1,-0.9,-0.8,-0.7,-0.6,-0.5,-0.4,-0.3,-0.2,-0.1,0,0.1,0.2,0.3,0.4,0.5,0.6,0.7,0.8,0.9,1], "tickSize": {"condition": {"test": "abs(datum.value*2 - round(datum.value*2)) < 0.001", "value": -7}, "value": -4}, "labels": false, "title": null}}
   }}
 ],
 "resolve": {"axis": {"x": "independent", "y": "independent"}}
},
{
 "title": "F34/F11", "width": 316, "height": 348,
 "data": {"name": "f34"},
 "layer": [
  {"data": {"values": [{}]}, "mark": {"type": "rule", "color": "#222222", "strokeWidth": 1}, "encoding": {"y": {"datum": 0, "type": "quantitative", "scale": {"domain": [-1, 1], "nice": false}, "axis": null}}},
  {"mark": {"type": "line", "color": "#333333", "strokeWidth": 1.1, "interpolate": "monotone"},
   "encoding": {
    "x": {"field": "angle", "type": "quantitative", "scale": {"domain": [0, 180], "nice": false, "zero": false},
      "axis": {"orient": "bottom", "values": [0,10,20,30,40,50,60,70,80,90,100,110,120,130,140,150,160,170], "tickSize": {"condition": {"test": "datum.value % 50 === 0", "value": -7}, "value": -4}, "labelExpr": "datum.value % 50 === 0 ? datum.label : ''", "title": "Scattering angle"}},
    "y": {"field": "value", "type": "quantitative", "scale": {"domain": [-1, 1], "nice": false},
      "axis": {"orient": "left", "values": [-1,-0.9,-0.8,-0.7,-0.6,-0.5,-0.4,-0.3,-0.2,-0.1,0,0.1,0.2,0.3,0.4,0.5,0.6,0.7,0.8,0.9,1], "format": ".1f", "tickSize": {"condition": {"test": "abs(datum.value*2 - round(datum.value*2)) < 0.001", "value": -7}, "value": -4}, "labelExpr": "abs(datum.value*2 - round(datum.value*2)) < 0.001 ? datum.label : ''", "title": null}},
    "strokeDash": {"field": "series", "type": "nominal", "scale": {"domain": ["dlike", "knud", "mitr"], "range": [[1, 0], [1, 3], [10, 7]]}, "legend": {"orient": "none", "legendX": 265.5, "legendY": 19.5, "title": null}}
   }},
  {"mark": {"type": "point", "opacity": 0},
   "encoding": {
    "x": {"field": "angle", "type": "quantitative", "scale": {"domain": [0, 180], "nice": false, "zero": false},
      "axis": {"orient": "top", "values": [0,10,20,30,40,50,60,70,80,90,100,110,120,130,140,150,160,170], "tickSize": {"condition": {"test": "datum.value % 50 === 0", "value": -7}, "value": -4}, "labels": false, "title": null}},
    "y": {"field": "value", "type": "quantitative", "scale": {"domain": [-1, 1], "nice": false},
      "axis": {"orient": "right", "values": [-1,-0.9,-0.8,-0.7,-0.6,-0.5,-0.4,-0.3,-0.2,-0.1,0,0.1,0.2,0.3,0.4,0.5,0.6,0.7,0.8,0.9,1], "tickSize": {"condition": {"test": "abs(datum.value*2 - round(datum.value*2)) < 0.001", "value": -7}, "value": -4}, "labels": false, "title": null}}
   }}
 ],
 "resolve": {"axis": {"x": "independent", "y": "independent"}}
}
],
"resolve": {"scale": {"strokeDash": "independent"}, "legend": {"strokeDash": "independent"}},
"config": {
 "view": {"stroke": null},
 "font": "DejaVu Sans",
 "axis": {"grid": false, "domainColor": "#888888", "domainWidth": 2, "tickColor": "#777777", "tickWidth": 1, "labelFont": "DejaVu Sans", "labelFontSize": 14, "labelColor": "#666666", "labelFlush": false, "labelOverlap": false, "titleFont": "DejaVu Sans", "titleFontSize": 14, "titleFontWeight": "normal", "titleColor": "#666666"},
 "axisX": {"labelPadding": 15, "titlePadding": 0},
 "axisY": {"labelPadding": 13},
 "title": {"font": "DejaVu Sans", "fontSize": 16, "fontWeight": "normal", "color": "#666666", "offset": 6},
 "legend": {"symbolType": "M-4,0H4", "symbolSize": 121, "symbolStrokeWidth": 1, "symbolStrokeColor": "#333333", "symbolFillColor": "transparent", "labelAlign": "right", "labelOffset": -38.5, "labelFont": "DejaVu Sans", "labelFontSize": 11, "labelColor": "#555555", "rowPadding": 3.5, "padding": 0}
}
}
